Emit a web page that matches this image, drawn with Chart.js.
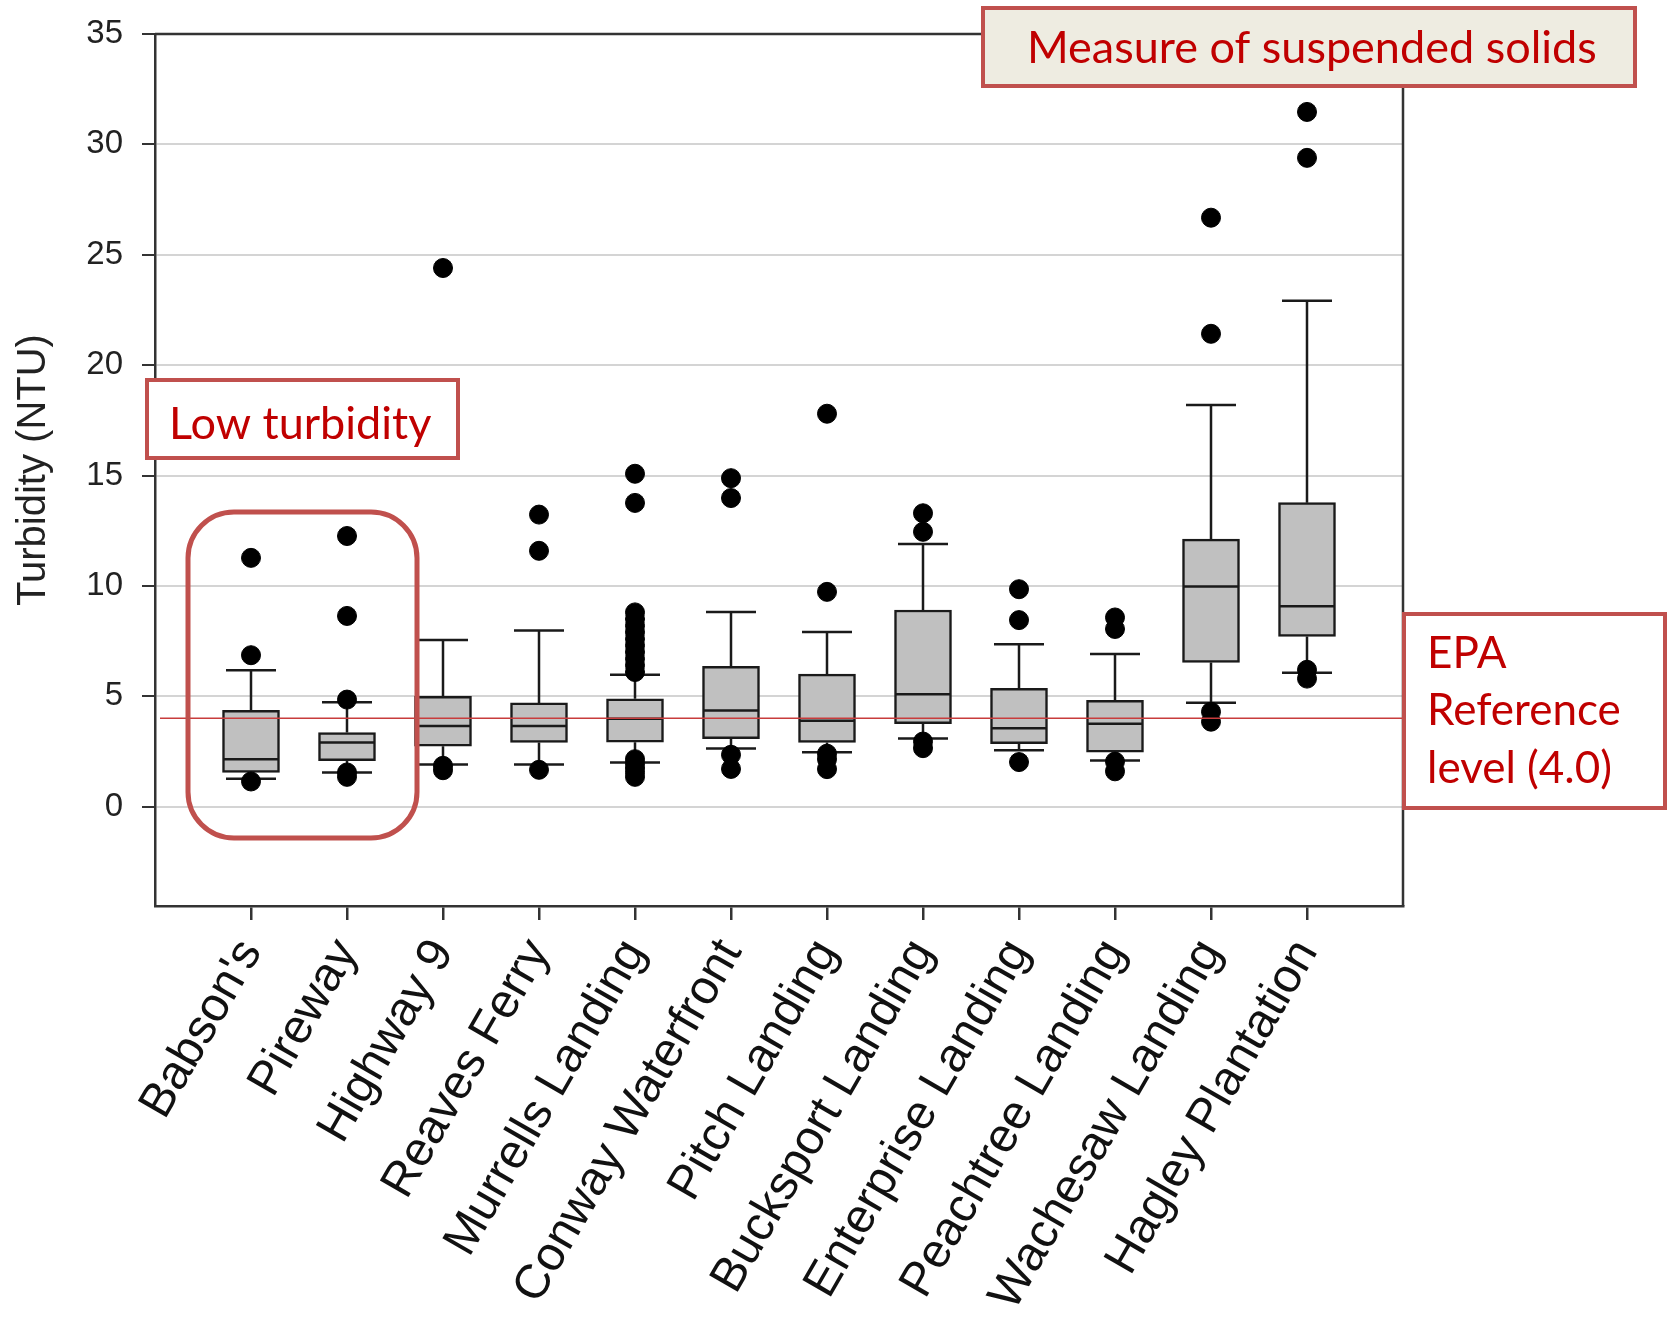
<!DOCTYPE html>
<html>
<head>
<meta charset="utf-8">
<script src="https://cdn.jsdelivr.net/npm/chart.js@4.4.1/dist/chart.umd.min.js"></script>
<style>
  html, body { margin: 0; padding: 0; background: #fff; }
  #wrap { width: 1668px; height: 1323px; }
</style>
</head>
<body>
<div id="wrap"><canvas id="turbidityChart" width="1668" height="1323"></canvas></div>
<script>
const sites = ["Babson's", 'Pireway', 'Highway 9', 'Reaves Ferry', 'Murrells Landing', 'Conway Waterfront',
    'Pitch Landing', 'Bucksport Landing', 'Enterprise Landing', 'Peachtree Landing', 'Wachesaw Landing', 'Hagley Plantation'];
const whiskerLow = [1.26, 1.55, 1.91, 1.91, 2.0, 2.64, 2.47, 3.09, 2.55, 2.09, 4.71, 6.07];
const q1 = [1.55, 2.08, 2.74, 2.91, 2.92, 3.08, 2.91, 3.76, 2.85, 2.47, 6.53, 7.71];
const median = [2.15, 2.91, 3.65, 3.65, 3.98, 4.36, 3.89, 5.09, 3.55, 3.76, 9.97, 9.08];
const q3 = [4.36, 3.36, 5.0, 4.7, 4.89, 6.36, 6.0, 8.91, 5.36, 4.82, 12.12, 13.77];
const whiskerHigh = [6.18, 4.73, 7.55, 7.98, 5.98, 8.82, 7.91, 11.9, 7.36, 6.91, 18.2, 22.92];
const outliers = [
    [11.27, 6.86, 1.14],
    [12.26, 8.64, 4.85, 1.55, 1.35],
    [24.4, 1.85, 1.65],
    [13.23, 11.59, 1.67],
    [15.08, 13.76, 8.8, 8.5, 8.2, 7.9, 7.6, 7.3, 7.0, 6.7, 6.4, 6.1, 2.15, 1.95, 1.75, 1.55, 1.35],
    [14.88, 13.98, 2.35, 1.71],
    [17.8, 9.73, 2.4, 2.15, 1.7],
    [13.29, 12.45, 2.95, 2.65],
    [9.85, 8.45, 2.02],
    [8.57, 8.05, 2.04, 1.6],
    [26.68, 21.42, 4.3, 3.85],
    [31.47, 29.39, 6.2, 5.8]
];
const yTicks = [0, 5, 10, 15, 20, 25, 30, 35];
const epaLevel = 4.0;

const axisColor = '#333333';
const annoRed = '#c0504d';
const textRed = '#c00000';

Chart.defaults.font.family = "'Liberation Sans', Arial, sans-serif";

const boxData = sites.map((s, i) => ({ x: i + 1, y: [q1[i], q3[i]] }));
const outlierData = [];
outliers.forEach((list, i) => list.forEach(v => outlierData.push({ x: i + 1, y: v })));

// whiskers go under the boxes, medians and the EPA line on top
const boxExtras = {
    id: 'boxExtras',
    beforeDatasetsDraw(chart) {
        const { ctx, chartArea: a, scales: { x, y } } = chart;
        ctx.save();
        ctx.strokeStyle = axisColor;
        ctx.lineWidth = 2.5;
        ctx.beginPath();
        ctx.moveTo(a.left, a.top);
        ctx.lineTo(a.right, a.top);
        ctx.lineTo(a.right, a.bottom);
        ctx.stroke();

        ctx.strokeStyle = '#1a1a1a';
        ctx.lineWidth = 2.5;
        const cap = 25;
        sites.forEach((s, i) => {
            const px = x.getPixelForValue(i + 1);
            [[q3[i], whiskerHigh[i]], [q1[i], whiskerLow[i]]].forEach(([from, to]) => {
                const yt = y.getPixelForValue(to);
                ctx.beginPath();
                ctx.moveTo(px, y.getPixelForValue(from));
                ctx.lineTo(px, yt);
                ctx.moveTo(px - cap, yt);
                ctx.lineTo(px + cap, yt);
                ctx.stroke();
            });
        });
        ctx.restore();
    },
    afterDatasetsDraw(chart) {
        const { ctx, chartArea: a, scales: { x, y } } = chart;
        ctx.save();
        ctx.strokeStyle = '#1a1a1a';
        ctx.lineWidth = 2.5;
        sites.forEach((s, i) => {
            const px = x.getPixelForValue(i + 1);
            const py = y.getPixelForValue(median[i]);
            ctx.beginPath();
            ctx.moveTo(px - 28, py);
            ctx.lineTo(px + 28, py);
            ctx.stroke();
        });
        const ey = y.getPixelForValue(epaLevel);
        ctx.strokeStyle = '#c83c3c';
        ctx.lineWidth = 1.5;
        ctx.beginPath();
        ctx.moveTo(a.left + 5, ey);
        ctx.lineTo(a.right, ey);
        ctx.stroke();
        ctx.restore();
    }
};

// slide callouts laid over the figure
function roundRect(ctx, x, y, w, h, r) {
    ctx.beginPath();
    ctx.moveTo(x + r, y);
    ctx.arcTo(x + w, y, x + w, y + h, r);
    ctx.arcTo(x + w, y + h, x, y + h, r);
    ctx.arcTo(x, y + h, x, y, r);
    ctx.arcTo(x, y, x + w, y, r);
    ctx.closePath();
}

const callouts = {
    id: 'callouts',
    afterDraw(chart) {
        const ctx = chart.ctx;
        ctx.save();
        ctx.strokeStyle = annoRed;

        ctx.lineWidth = 5;
        roundRect(ctx, 188, 512, 229, 326, 46);
        ctx.stroke();

        ctx.lineWidth = 4;
        ctx.fillStyle = '#ffffff';
        ctx.fillRect(147, 380, 311, 78);
        ctx.strokeRect(147, 380, 311, 78);

        ctx.fillStyle = '#eeece1';
        ctx.fillRect(983, 8, 652, 78);
        ctx.strokeRect(983, 8, 652, 78);

        ctx.fillStyle = '#ffffff';
        ctx.fillRect(1404, 614, 261, 194);
        ctx.strokeRect(1404, 614, 261, 194);

        ctx.fillStyle = textRed;
        ctx.textBaseline = 'alphabetic';
        ctx.textAlign = 'left';
        ctx.font = '45px Lato';
        ctx.fillText('Low turbidity', 169, 439);
        ctx.fillText('Measure of suspended solids', 1027, 63);
        ctx.font = '44px Lato';
        ctx.fillText('EPA', 1427, 668);
        ctx.fillText('Reference', 1427, 725);
        ctx.fillText('level (4.0)', 1427, 783);
        ctx.restore();
    }
};

new Chart(document.getElementById('turbidityChart'), {
    type: 'bar',
    data: {
        datasets: [{
                type: 'scatter',
                data: outlierData,
                backgroundColor: '#000000',
                borderColor: '#000000',
                pointRadius: 9.5,
                pointHoverRadius: 9.5
            },
            {
                type: 'bar',
                data: boxData,
                backgroundColor: '#c0c0c0',
                borderColor: '#1a1a1a',
                borderWidth: 2.5,
                borderSkipped: false,
                barThickness: 57
            }
        ]
    },
    options: {
        responsive: false,
        animation: false,
        devicePixelRatio: 1,
        layout: {
            padding: { top: 34, right: 265, left: 0, bottom: 0 }
        },
        plugins: {
            legend: { display: false },
            tooltip: { enabled: false }
        },
        scales: {
            x: {
                type: 'linear',
                min: 0,
                max: 13,
                offset: false,
                afterBuildTicks: s => { s.ticks = sites.map((c, i) => ({ value: i + 1 })); },
                afterFit: s => { s.height = 417; },
                grid: {
                    offset: false,
                    drawOnChartArea: false,
                    drawTicks: true,
                    tickLength: 14,
                    tickColor: axisColor,
                    lineWidth: 2.5
                },
                border: { display: true, color: axisColor, width: 2.5 },
                ticks: {
                    autoSkip: false,
                    maxRotation: 60,
                    minRotation: 60,
                    padding: 10,
                    color: '#111111',
                    font: { size: 48 },
                    callback: v => sites[v - 1]
                }
            },
            y: {
                min: -4.5,
                max: 35,
                afterBuildTicks: s => { s.ticks = yTicks.map(v => ({ value: v })); },
                afterFit: s => {
                    s.width = 155;
                    s.paddingTop = 0;
                    s.paddingBottom = 0;
                },
                grid: {
                    color: c => (c.tick && c.tick.value === 35) ? 'rgba(0,0,0,0)' : '#d4d4d4',
                    lineWidth: 2,
                    tickLength: 13,
                    tickColor: axisColor
                },
                border: { display: true, color: axisColor, width: 2.5 },
                ticks: {
                    padding: 19,
                    color: '#222222',
                    font: { size: 33 }
                },
                title: {
                    display: true,
                    text: 'Turbidity (NTU)',
                    color: '#222222',
                    font: { size: 40 },
                    padding: { top: 10, bottom: 0 }
                }
            }
        }
    },
    plugins: [boxExtras, callouts]
});
</script>
</body>
</html>
